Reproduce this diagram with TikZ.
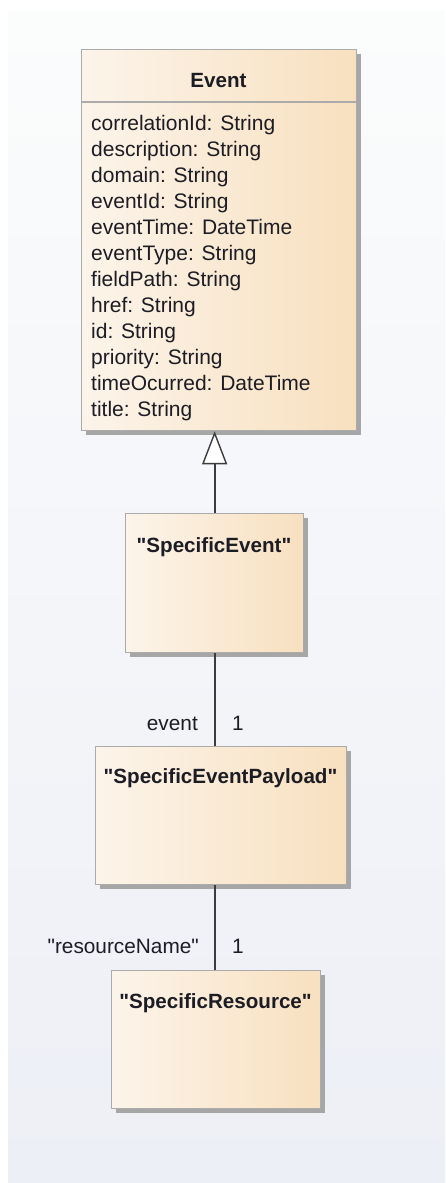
\documentclass[tikz,border=0pt]{standalone}
\usepackage{fontspec}
\setmainfont{Liberation Sans}[Ligatures=TeXOff]
\usetikzlibrary{arrows.meta,shadows}
\definecolor{bgtop}{HTML}{FBFCFC}
\definecolor{bgbot}{HTML}{EDEFF6}
\definecolor{boxl}{HTML}{FCF4EA}
\definecolor{boxr}{HTML}{F8E0BF}
\definecolor{boxborder}{HTML}{ABABAB}
\definecolor{shadowc}{HTML}{A6A6A6}
\definecolor{linec}{HTML}{3C3C3C}
\definecolor{txt}{HTML}{1C1C24}
\newcommand\dq{\symbol{34}}
\begin{document}
\begin{tikzpicture}[x=1pt,y=-1pt,
  umlbox/.style={draw=boxborder, line width=1.3pt, left color=boxl, right color=boxr,
    anchor=north west, inner sep=0pt,
    drop shadow={shadow xshift=4pt, shadow yshift=-4pt, fill=shadowc, opacity=1}},
  umltitle/.style={font=\bfseries\fontsize{20.6}{25}\selectfont, text=txt, anchor=base, inner sep=0pt},
  umlattr/.style={font=\fontsize{21}{25}\selectfont, text=txt, anchor=base west, inner sep=0pt},
  rolelabel/.style={font=\fontsize{20.8}{25}\selectfont, text=txt, inner sep=0pt},
  conn/.style={draw=linec, line width=1.7pt}]
\useasboundingbox (0,0) rectangle (445,1183);
\fill[white] (0,0) rectangle (445,1183);
\shade[top color=bgtop, bottom color=bgbot] (8,10) rectangle (445,1183);

% Event class
\node[umlbox, minimum width=275pt, minimum height=381pt] (ev) at (81,49) {};
\draw[boxborder, line width=1.3pt] (ev.west |- 0,102) -- (ev.east |- 0,102);
\node[umltitle] (evt) at (218.5,87) {Event};
\foreach \i/\t in {0/correlationId: String, 1/description: String, 2/domain: String,
  3/eventId: String, 4/eventTime: DateTime, 5/eventType: String, 6/fieldPath: String,
  7/href: String, 8/id: String, 9/priority: String, 10/timeOcurred: DateTime, 11/title: String}
  \node[umlattr] (attr\i) at (91,130+26*\i) {\t};

% SpecificEvent
\node[umlbox, minimum width=178pt, minimum height=139pt] (se) at (125,513) {};
\node[umltitle] (set) at (214,552) {\dq SpecificEvent\dq};

% SpecificEventPayload
\node[umlbox, minimum width=251pt, minimum height=138pt] (sep) at (95,746) {};
\node[umltitle] (sept) at (220.5,783) {\dq SpecificEventPayload\dq};

% SpecificResource
\node[umlbox, minimum width=209pt, minimum height=138pt] (sr) at (111,970) {};
\node[umltitle] (srt) at (215.5,1008) {\dq SpecificResource\dq};

% connectors
\draw[conn, -{Triangle[length=33pt, width=25pt, fill=white, line width=1.4pt]}]
  (se.north) -- (se.north |- ev.south);
\draw[conn] (se.south) -- (se.south |- sep.north);
\draw[conn] (sep.south -| se.south) -- (sr.north -| se.south);

% role labels
\node[rolelabel, anchor=base east] (l1) at (198,730) {event};
\node[rolelabel, anchor=base west] (m1) at (232,730) {1};
\node[rolelabel, anchor=base east] (l2) at (199,953) {\dq resourceName\dq};
\node[rolelabel, anchor=base west] (m2) at (232,953) {1};
\end{tikzpicture}
\end{document}
